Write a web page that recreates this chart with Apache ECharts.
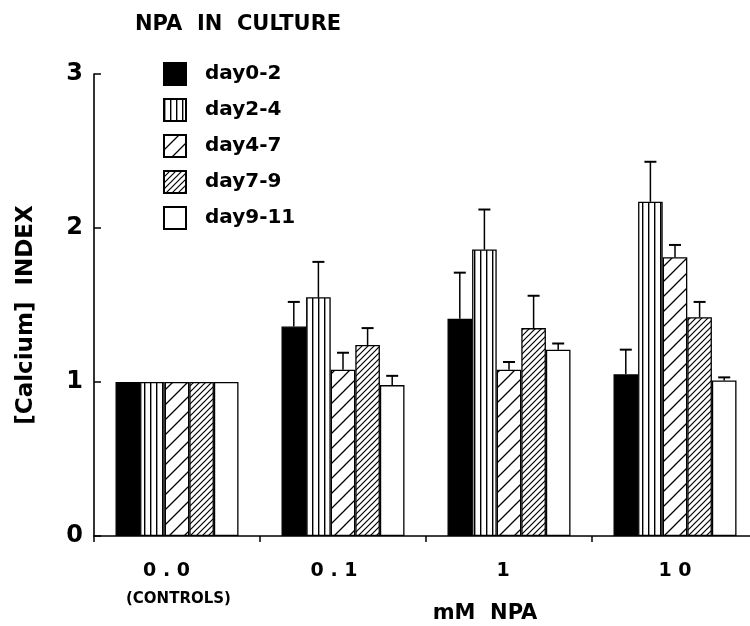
<!DOCTYPE html>
<html>
<head>
<meta charset="utf-8">
<script src="https://cdn.jsdelivr.net/npm/echarts@6/dist/echarts.min.js"></script>
<style>
html,body{margin:0;padding:0;background:#fff;}
#chart{width:750px;height:626px;}
</style>
</head>
<body>
<div id="chart"></div>
<script>
// ---- data ----
var categories = ['0 . 0', '0 . 1', '1', '1 0'];
var seriesNames = ['day0-2', 'day2-4', 'day4-7', 'day7-9', 'day9-11'];
var day0_2 = [1.00, 1.36, 1.41, 1.05];
var day2_4 = [1.00, 1.55, 1.86, 2.17];
var day4_7 = [1.00, 1.08, 1.08, 1.81];
var day7_9 = [1.00, 1.24, 1.35, 1.42];
var day9_11 = [1.00, 0.98, 1.21, 1.01];
var err0_2 = [0, 0.16, 0.30, 0.16];
var err2_4 = [0, 0.23, 0.26, 0.26];
var err4_7 = [0, 0.11, 0.05, 0.08];
var err7_9 = [0, 0.11, 0.21, 0.10];
var err9_11 = [0, 0.06, 0.04, 0.02];
var yTicks = [0, 1, 2, 3];

var values = [day0_2, day2_4, day4_7, day7_9, day9_11];
var errors = [err0_2, err2_4, err4_7, err7_9, err9_11];

// ---- patterns ----
function makePattern(w, h, draw) {
  var c = document.createElement('canvas');
  c.width = w; c.height = h;
  var ctx = c.getContext('2d');
  ctx.fillStyle = '#fff';
  ctx.fillRect(0, 0, w, h);
  ctx.strokeStyle = '#000';
  draw(ctx, w, h);
  return { image: c, repeat: 'repeat' };
}
var vStripe = makePattern(6, 6, function (ctx, w, h) {
  ctx.fillStyle = '#000';
  ctx.fillRect(0, 0, 1.4, h);
});
function diag(size, lw) {
  return makePattern(size, size, function (ctx, w, h) {
    ctx.lineWidth = lw;
    ctx.beginPath();
    ctx.moveTo(-1, h + 1); ctx.lineTo(w + 1, -1);
    ctx.moveTo(-w / 2 - 1, h / 2 + 1); ctx.lineTo(w / 2 + 1, -h / 2 - 1);
    ctx.moveTo(w / 2 - 1, h * 1.5 + 1); ctx.lineTo(w * 1.5 + 1, h / 2 - 1);
    ctx.stroke();
  });
}
var diagSparse = diag(15, 1.3);
var diagDense = diag(6, 1.2);
var fills = ['#000', vStripe, diagSparse, diagDense, '#fff'];

var FONT = 'DejaVu Sans';
var BAR_W = 24.6;

var series = [];
seriesNames.forEach(function (name, i) {
  series.push({
    name: name,
    type: 'bar',
    data: values[i],
    barWidth: BAR_W,
    barGap: '0%',
    itemStyle: { color: fills[i], borderColor: '#000', borderWidth: 1.3 },
    emphasis: { disabled: true },
    animation: false,
    z: 2
  });
});
seriesNames.forEach(function (name, i) {
  var d = values[i].map(function (v, k) { return [k, v, errors[i][k]]; });
  series.push({
    name: name + ' err',
    type: 'custom',
    data: d,
    encode: { x: 0, y: 1 },
    z: 5,
    animation: false,
    renderItem: function (params, api) {
      var e = api.value(2);
      if (!e) return null;
      var k = api.value(0), v = api.value(1);
      var p0 = api.coord([k, v]);
      var p1 = api.coord([k, v + e]);
      var x = p0[0] + (i - 2) * BAR_W;
      var st = { stroke: '#000', lineWidth: 1.5 };
      return {
        type: 'group',
        children: [
          { type: 'line', shape: { x1: x, y1: p0[1], x2: x, y2: p1[1] }, style: st },
          { type: 'line', shape: { x1: x - 6, y1: p1[1], x2: x + 6, y2: p1[1] }, style: { stroke: '#000', lineWidth: 2 } }
        ]
      };
    }
  });
});

var labelPads = [[0, 21, 0, 0], [0, 18, 0, 0], [0, 12, 0, 0], [0, 0, 0, 0]];
var chart = echarts.init(document.getElementById('chart'));
chart.setOption({
  backgroundColor: '#fff',
  animation: false,
  textStyle: { fontFamily: FONT, fontWeight: 'bold', color: '#000' },
  grid: { left: 94, top: 74, width: 664, height: 462, containLabel: false, outerBoundsMode: 'none' },
  legend: {
    data: seriesNames,
    orient: 'vertical',
    left: 158,
    top: 57,
    icon: 'rect',
    itemWidth: 22,
    itemHeight: 22,
    itemGap: 12,
    selectedMode: false,
    textStyle: { fontFamily: FONT, fontWeight: 'bold', fontSize: 20, color: '#000', padding: [0, 0, 0, 14], lineHeight: 22 }
  },
  xAxis: {
    type: 'category',
    data: categories.map(function (c, k) { return { value: c, textStyle: { padding: labelPads[k] } }; }),
    name: 'mM  NPA',
    nameLocation: 'middle',
    nameGap: 67,
    nameTextStyle: { fontFamily: FONT, fontWeight: 'bold', fontSize: 21, color: '#000', padding: [0, 0, 0, 118] },
    axisLine: { lineStyle: { color: '#000', width: 1.6 } },
    axisTick: { show: true, inside: false, length: 6, lineStyle: { color: '#000', width: 1.5 } },
    axisLabel: { fontFamily: FONT, fontWeight: 'bold', fontSize: 19, color: '#000', margin: 26 },
    splitLine: { show: false }
  },
  yAxis: {
    type: 'value',
    min: yTicks[0],
    max: yTicks[yTicks.length - 1],
    interval: 1,
    name: '[Calcium]  INDEX',
    nameLocation: 'middle',
    nameRotate: 90,
    nameGap: 56,
    nameTextStyle: { fontFamily: FONT, fontWeight: 'bold', fontSize: 23, color: '#000', padding: [0, 20, 0, 0] },
    axisLine: { show: true, lineStyle: { color: '#000', width: 1.6 } },
    axisTick: { show: true, inside: true, length: 7, lineStyle: { color: '#000', width: 1.5 } },
    axisLabel: { fontFamily: FONT, fontWeight: 'bold', fontSize: 24, color: '#000', margin: 11 },
    splitLine: { show: false }
  },
  graphic: [
    { type: 'text', left: 135, top: 14, style: { text: 'NPA  IN  CULTURE', font: 'bold 21px "DejaVu Sans"', fill: '#000' } },
    { type: 'text', left: 126, top: 592, style: { text: '(CONTROLS)', font: 'bold 15px "DejaVu Sans"', fill: '#000' } }
  ],
  series: series
});
</script>
</body>
</html>
